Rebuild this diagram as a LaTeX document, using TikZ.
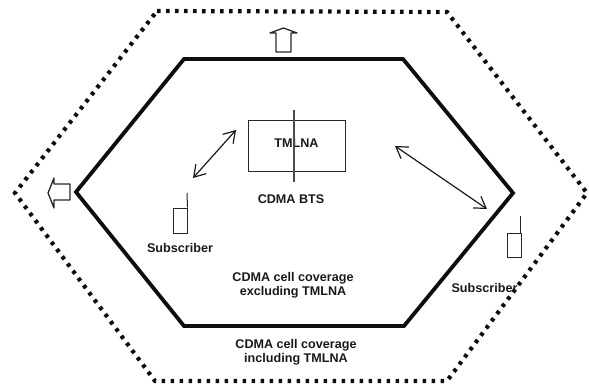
\documentclass[tikz,border=0pt]{standalone}
\usepackage{fontspec}
\setmainfont{Liberation Sans}
\usetikzlibrary{arrows.meta}
\tikzset{
  lbl/.style={font=\bfseries\fontsize{12.6}{14}\selectfont,align=center,inner sep=0pt,text=black!90},
  inner hex/.style={line width=3.8pt,line join=miter,miter limit=10,black!95},
  outer hex/.style={line width=4.2pt,dash pattern=on 3.6pt off 5.4pt,black!95},
  thin part/.style={line width=1pt,black!85},
  hollow/.style={line width=1.3pt,line join=round,black!85},
  link/.style={line width=1.2pt,black!90,{Straight Barb[length=11pt,width=14pt,line width=1.2pt]}-{Straight Barb[length=11pt,width=14pt,line width=1.2pt]}}
}
\begin{document}
\begin{tikzpicture}[x=1pt,y=-1pt]
\useasboundingbox (0,0) rectangle (589,385);
\draw[outer hex] (157,11) -- (447,12) -- (587,193) -- (447,381) -- (155,381) -- (15,193) -- cycle;
\draw[inner hex] (184,59) -- (403,59) -- (513,193) -- (404,326) -- (184,326) -- (76,192) -- cycle;
% hollow arrows
\draw[hollow] (276,52) -- (276,33) -- (270,33) -- (283.5,28) -- (297,33) -- (291,33) -- (291,52) -- cycle;
\draw[hollow] (70,184) -- (54,184) -- (54,178) -- (48,193) -- (54,208) -- (54,200) -- (70,200) -- cycle;
% BTS
\node[draw,thin part,minimum width=97pt,minimum height=50pt,inner sep=0pt] (bts) at (296.5,146) {};
\coordinate (mastTop) at (294,110);
\coordinate (mastBot) at (294,182);
\node[lbl] (tmlna) at (296.5,143) {TMLNA};
\draw[line width=1.1pt,black!70] (mastTop) -- (mastBot);
\node[lbl] (btslabel) at (291,199) {CDMA BTS};
% phones
\node[draw,thin part,minimum width=14pt,minimum height=25pt,inner sep=0pt] (ph1) at (180,220.5) {};
\coordinate (ant1) at (187,193);
\draw[thin part] (ph1.north east) -- (ant1);
\node[lbl] (sub1) at (180,248) {Subscriber};
\node[draw,thin part,minimum width=14pt,minimum height=24pt,inner sep=0pt] (ph2) at (514,245) {};
\coordinate (ant2) at (520.5,216);
\draw[thin part] (520.5,233) -- (ant2);
\node[lbl] (sub2) at (484.5,288) {Subscriber};
% links
\coordinate (a1) at (193,178);
\coordinate (a2) at (236,130);
\draw[link] (a1) -- (a2);
\coordinate (b1) at (395,146);
\coordinate (b2) at (487,209);
\draw[link] (b1) -- (b2);
% labels
\node[lbl] (cov1) at (293,285) {CDMA cell coverage\\excluding TMLNA};
\node[lbl] (cov2) at (296,352) {CDMA cell coverage\\including TMLNA};
\end{tikzpicture}
\end{document}
